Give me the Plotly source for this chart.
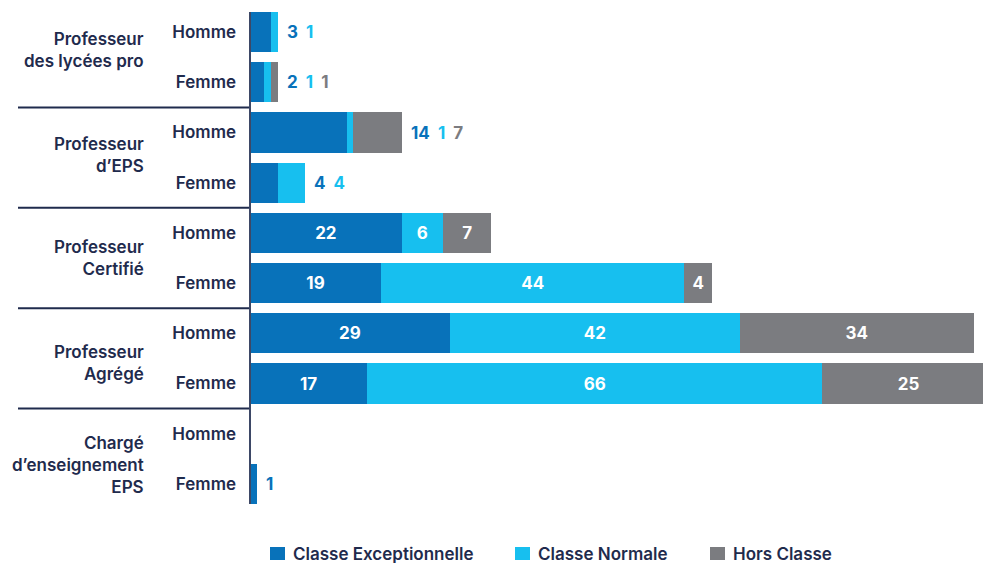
import plotly.graph_objects as go

# ---- data ----
groups = ["Professeur<br>des lycées pro", "Professeur<br>d’EPS", "Professeur<br>Certifié",
          "Professeur<br>Agrégé", "Chargé<br>d’enseignement<br>EPS"]
sexes = ["Homme", "Femme"]
exceptionnelle = [3, 2, 14, 4, 22, 19, 29, 17, 0, 1]
normale = [1, 1, 1, 4, 6, 44, 42, 66, 0, 0]
hors_classe = [0, 1, 7, 0, 7, 4, 34, 25, 0, 0]
series_names = ["Classe Exceptionnelle", "Classe Normale", "Hors Classe"]
series_colors = ["#0872ba", "#17bfef", "#7b7c80"]

# ---- style ----
NAVY = "#1f2b4d"
FONT = "Inter"
FS = 17
W, H = 983, 563
ML, MR, MT, MB = 250, 0, 7, 54
PW, PH = W - ML - MR, H - MT - MB
BARGAP = 0.2
group_label_yshift = [7, 3, 0, -5, -6]
legend_px = [270, 515, 710]      # left edge of legend squares (pixels)
legend_py = 553.5                # vertical centre of legend row (pixels)


def px2paper_x(px):
    return (px - ML) / PW


def px2paper_y(py):
    return (H - MB - py) / PH


rows = [f"{g}|{s}" for g in groups for s in sexes]
ticktext = [s for g in groups for s in sexes]
series = [exceptionnelle, normale, hors_classe]
totals = [sum(v) for v in zip(*series)]
inside = [t > 30 for t in totals]

fig = go.Figure()
for name, vals, col in zip(series_names, series, series_colors):
    txt = [str(v) if (ins and v > 0) else "" for v, ins in zip(vals, inside)]
    fig.add_trace(go.Bar(
        y=rows, x=vals, orientation="h", name=name, showlegend=False,
        marker=dict(color=col, line=dict(width=0)),
        text=txt, textposition="inside", insidetextanchor="middle", textangle=0,
        textfont=dict(color="white", family=FONT, size=FS, weight=700),
        constraintext="none", hoverinfo="x+name",
    ))

annotations = []
shapes = []

# outside labels for small bars
for i, r in enumerate(rows):
    if inside[i] or totals[i] == 0:
        continue
    parts = []
    for vals, col in zip(series, series_colors):
        if vals[i] > 0:
            parts.append(f"<span style='color:{col}'>{vals[i]}</span>")
    annotations.append(dict(
        x=totals[i], y=i, xref="x", yref="y", text="&nbsp;&nbsp;".join(parts),
        showarrow=False, xanchor="left", yanchor="middle", xshift=7,
        font=dict(family=FONT, size=FS, weight=700),
    ))

# group labels
for gi, g in enumerate(groups):
    annotations.append(dict(
        x=px2paper_x(146), y=gi * 2 + 0.5, xref="paper", yref="y", text=g, showarrow=False,
        xanchor="right", yanchor="middle", align="right", yshift=group_label_yshift[gi],
        font=dict(family=FONT, size=FS, weight=600, color=NAVY),
    ))

# group separators
for gi in range(1, len(groups)):
    yb = gi * 2 - 0.5
    shapes.append(dict(type="line", xref="paper", yref="y", x0=px2paper_x(18), x1=0, y0=yb, y1=yb,
                       line=dict(color=NAVY, width=2)))

# vertical axis line spanning the bars
half = (1 - BARGAP) / 2
shapes.append(dict(type="line", xref="paper", yref="y", x0=0, x1=0,
                   y0=-half, y1=len(rows) - 1 + half, line=dict(color="#3d4866", width=2)))

# legend (drawn manually to match spacing)
for name, col, lx in zip(series_names, series_colors, legend_px):
    shapes.append(dict(type="rect", xref="paper", yref="paper",
                       x0=px2paper_x(lx), x1=px2paper_x(lx + 15),
                       y0=px2paper_y(legend_py + 6.5), y1=px2paper_y(legend_py - 6.5),
                       fillcolor=col, line=dict(width=0)))
    annotations.append(dict(x=px2paper_x(lx + 21), y=px2paper_y(legend_py), xref="paper", yref="paper",
                            text=name, showarrow=False, xanchor="left", yanchor="middle",
                            font=dict(family=FONT, size=FS, weight=600, color=NAVY)))

fig.update_layout(
    width=W, height=H, barmode="stack", bargap=BARGAP,
    margin=dict(l=ML, r=MR, t=MT, b=MB, autoexpand=False),
    plot_bgcolor="white", paper_bgcolor="white",
    font=dict(family=FONT, color=NAVY, size=FS),
    xaxis=dict(range=[0, 106.3], visible=False, fixedrange=True),
    yaxis=dict(type="category", categoryorder="array", categoryarray=rows, autorange="reversed",
               tickvals=rows, ticktext=ticktext, showgrid=False, showline=False, automargin=False,
               zeroline=False, ticks="", ticklabelstandoff=13, fixedrange=True,
               tickfont=dict(family=FONT, size=FS, weight=600, color=NAVY)),
    annotations=annotations, shapes=shapes, showlegend=False,
)

fig.write_html("out.html", config={"displayModeBar": False},
               post_script="document.body.style.margin='0';document.body.style.overflow='hidden';")
